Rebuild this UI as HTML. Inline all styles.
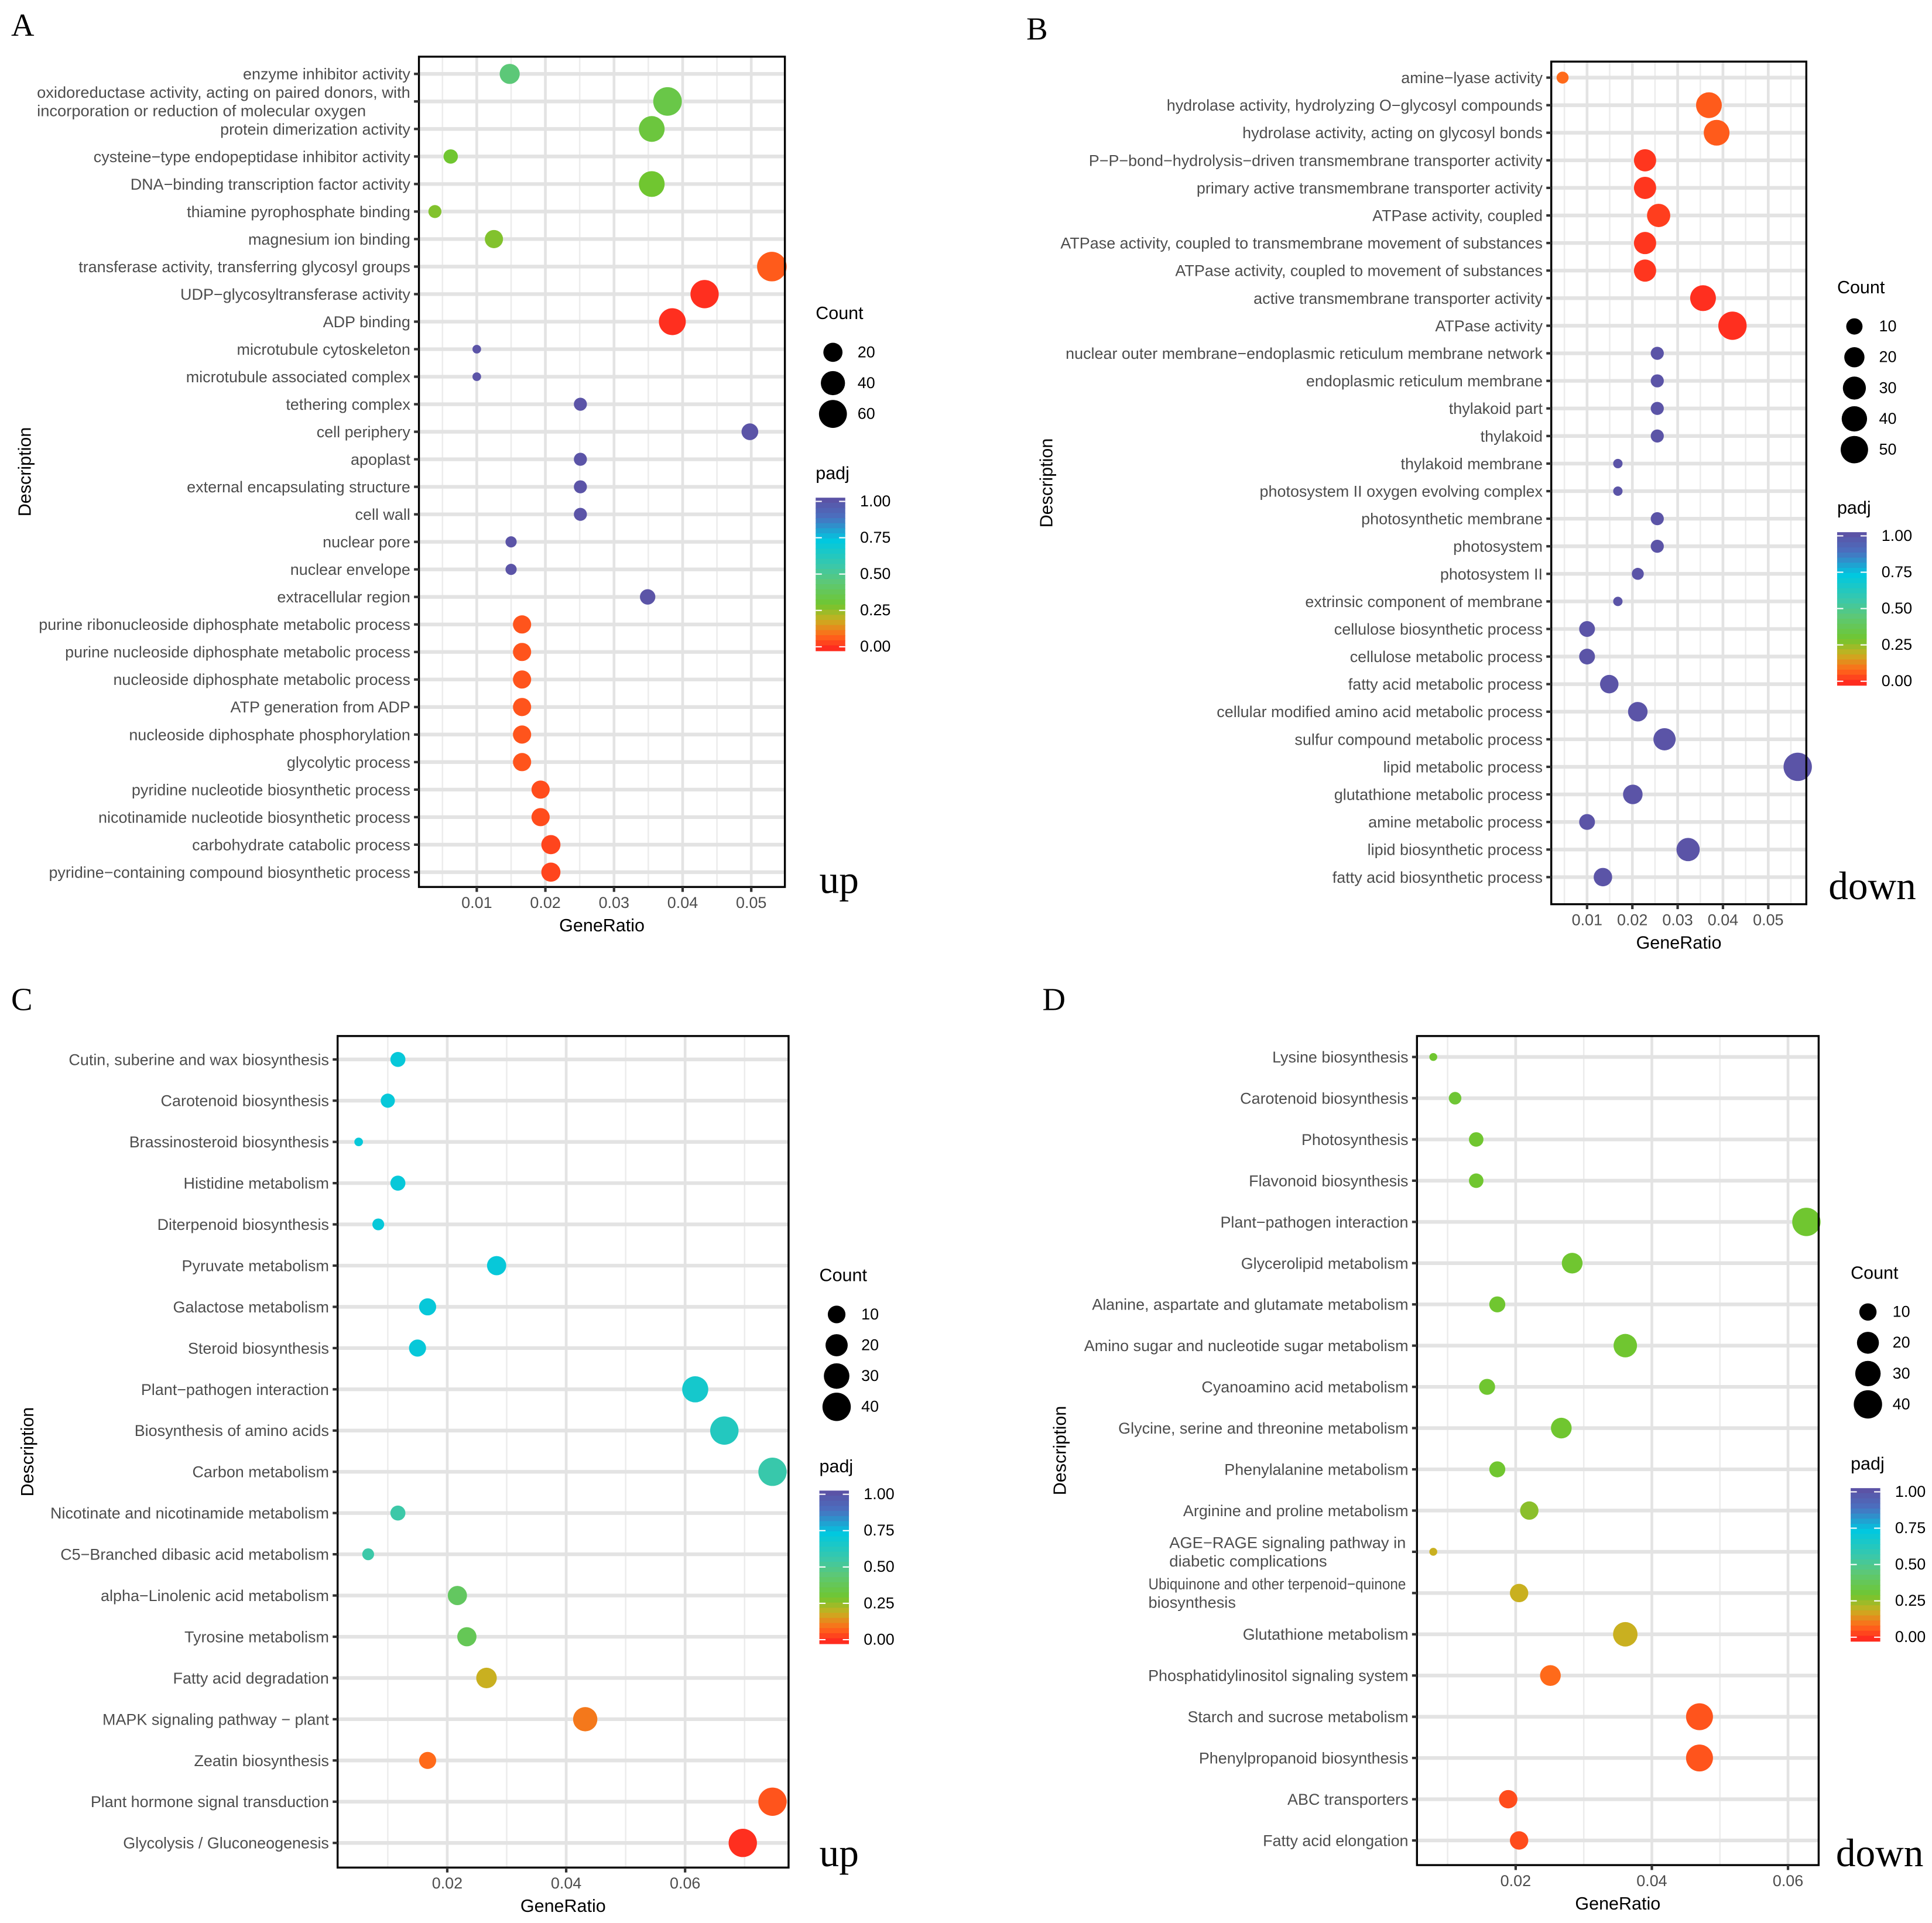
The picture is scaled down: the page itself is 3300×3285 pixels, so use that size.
<!DOCTYPE html>
<html><head><meta charset="utf-8"><style>
html,body{margin:0;padding:0;background:#fff}
svg{display:block}
</style></head><body>
<svg id="fig" xmlns="http://www.w3.org/2000/svg" width="3300" height="3285" viewBox="0 0 1568 1561" preserveAspectRatio="none" font-family="'Liberation Sans', sans-serif"></svg>
<script>
// ---------- Panel A data ----------
const A_terms=["enzyme inhibitor activity","oxidoreductase activity, acting on paired donors, with\nincorporation or reduction of molecular oxygen","protein dimerization activity","cysteine\u2212type endopeptidase inhibitor activity","DNA\u2212binding transcription factor activity","thiamine pyrophosphate binding","magnesium ion binding","transferase activity, transferring glycosyl groups","UDP\u2212glycosyltransferase activity","ADP binding","microtubule cytoskeleton","microtubule associated complex","tethering complex","cell periphery","apoplast","external encapsulating structure","cell wall","nuclear pore","nuclear envelope","extracellular region","purine ribonucleoside diphosphate metabolic process","purine nucleoside diphosphate metabolic process","nucleoside diphosphate metabolic process","ATP generation from ADP","nucleoside diphosphate phosphorylation","glycolytic process","pyridine nucleotide biosynthetic process","nicotinamide nucleotide biosynthetic process","carbohydrate catabolic process","pyridine\u2212containing compound biosynthetic process"];
const A_ratio=[0.0148,0.0378,0.0355,0.0062,0.0355,0.0039,0.0125,0.0530,0.0432,0.0385,0.0100,0.0100,0.0251,0.0498,0.0251,0.0251,0.0251,0.0150,0.0150,0.0349,0.0166,0.0166,0.0166,0.0166,0.0166,0.0166,0.0193,0.0193,0.0208,0.0208];
const A_count=[23,64,48,8,48,6,17,70,62,54,3,3,6,13,6,6,6,4,4,10,17,17,17,17,17,17,17,17,20,20];
const A_padj=[0.45,0.35,0.33,0.30,0.30,0.28,0.28,0.08,0.02,0.02,0.98,0.98,0.98,0.98,0.98,0.98,0.98,0.98,0.98,0.98,0.07,0.07,0.07,0.07,0.07,0.07,0.06,0.06,0.05,0.05];
const A_ticks=["0.01","0.02","0.03","0.04","0.05"];
const A_countBreaks=[20,40,60];
// ---------- Panel B data ----------
const B_terms=["amine\u2212lyase activity","hydrolase activity, hydrolyzing O\u2212glycosyl compounds","hydrolase activity, acting on glycosyl bonds","P\u2212P\u2212bond\u2212hydrolysis\u2212driven transmembrane transporter activity","primary active transmembrane transporter activity","ATPase activity, coupled","ATPase activity, coupled to transmembrane movement of substances","ATPase activity, coupled to movement of substances","active transmembrane transporter activity","ATPase activity","nuclear outer membrane\u2212endoplasmic reticulum membrane network","endoplasmic reticulum membrane","thylakoid part","thylakoid","thylakoid membrane","photosystem II oxygen evolving complex","photosynthetic membrane","photosystem","photosystem II","extrinsic component of membrane","cellulose biosynthetic process","cellulose metabolic process","fatty acid metabolic process","cellular modified amino acid metabolic process","sulfur compound metabolic process","lipid metabolic process","glutathione metabolic process","amine metabolic process","lipid biosynthetic process","fatty acid biosynthetic process"];
const B_ratio=[0.0046,0.0369,0.0386,0.0228,0.0228,0.0258,0.0228,0.0228,0.0356,0.0421,0.0255,0.0255,0.0255,0.0255,0.0168,0.0168,0.0255,0.0255,0.0212,0.0168,0.0100,0.0100,0.0149,0.0212,0.0271,0.0565,0.0201,0.0100,0.0323,0.0135];
const B_count=[4,42,42,27,27,31,27,27,42,55,5,5,5,5,3,3,5,5,4,3,9,9,15,18,27,55,18,9,31,15];
const B_padj=[0.10,0.08,0.08,0.03,0.03,0.04,0.03,0.03,0.02,0.02,0.98,0.98,0.98,0.98,0.98,0.98,0.98,0.98,0.98,0.98,0.98,0.98,0.98,0.98,0.98,0.98,0.98,0.98,0.98,0.98];
const B_ticks=["0.01","0.02","0.03","0.04","0.05"];
const B_countBreaks=[10,20,30,40,50];
// ---------- Panel C data ----------
const C_terms=["Cutin, suberine and wax biosynthesis","Carotenoid biosynthesis","Brassinosteroid biosynthesis","Histidine metabolism","Diterpenoid biosynthesis","Pyruvate metabolism","Galactose metabolism","Steroid biosynthesis","Plant\u2212pathogen interaction","Biosynthesis of amino acids","Carbon metabolism","Nicotinate and nicotinamide metabolism","C5\u2212Branched dibasic acid metabolism","alpha\u2212Linolenic acid metabolism","Tyrosine metabolism","Fatty acid degradation","MAPK signaling pathway \u2212 plant","Zeatin biosynthesis","Plant hormone signal transduction","Glycolysis / Gluconeogenesis"];
const C_ratio=[0.0117,0.0100,0.0051,0.0117,0.0084,0.0283,0.0167,0.0150,0.0617,0.0666,0.0747,0.0117,0.0067,0.0217,0.0233,0.0266,0.0432,0.0167,0.0747,0.0697];
const C_count=[6,5,2,6,3,13,9,9,32,40,40,6,3,13,13,16,26,9,40,40];
const C_padj=[0.70,0.70,0.70,0.70,0.70,0.70,0.70,0.70,0.66,0.62,0.56,0.55,0.55,0.40,0.38,0.20,0.12,0.10,0.07,0.02];
const C_ticks=["0.02","0.04","0.06"];
const C_countBreaks=[10,20,30,40];
// ---------- Panel D data ----------
const D_terms=["Lysine biosynthesis","Carotenoid biosynthesis","Photosynthesis","Flavonoid biosynthesis","Plant\u2212pathogen interaction","Glycerolipid metabolism","Alanine, aspartate and glutamate metabolism","Amino sugar and nucleotide sugar metabolism","Cyanoamino acid metabolism","Glycine, serine and threonine metabolism","Phenylalanine metabolism","Arginine and proline metabolism","AGE\u2212RAGE signaling pathway in\ndiabetic complications","Ubiquinone and other terpenoid\u2212quinone\nbiosynthesis","Glutathione metabolism","Phosphatidylinositol signaling system","Starch and sucrose metabolism","Phenylpropanoid biosynthesis","ABC transporters","Fatty acid elongation"];
const D_ratio=[0.0079,0.0111,0.0142,0.0142,0.0627,0.0283,0.0173,0.0361,0.0158,0.0267,0.0173,0.0220,0.0079,0.0205,0.0361,0.0251,0.0470,0.0470,0.0189,0.0205];
const D_count=[2,4,6,6,40,17,8,24,8,17,8,12,2,12,27,17,35,35,12,12];
const D_padj=[0.30,0.31,0.30,0.30,0.30,0.30,0.30,0.30,0.30,0.30,0.30,0.27,0.20,0.20,0.20,0.10,0.07,0.07,0.06,0.06];
const D_ticks=["0.02","0.04","0.06"];
const D_countBreaks=[10,20,30,40];

const NS="http://www.w3.org/2000/svg";
const svg=document.getElementById('fig');
const FS=12.8;
function mk(tag,attrs,parent){const e=document.createElementNS(NS,tag);for(const k in attrs)e.setAttribute(k,attrs[k]);(parent||svg).appendChild(e);return e;}
const stops=[[0,[255,32,32]],[0.1,[255,106,26]],[0.2,[201,176,32]],[0.3,[112,198,48]],[0.45,[92,200,120]],[0.55,[60,200,168]],[0.72,[0,200,224]],[0.87,[74,112,192]],[1,[94,79,162]]];
function col(p){for(let i=1;i<stops.length;i++){if(p<=stops[i][0]){const a=stops[i-1],b=stops[i];const t=(p-a[0])/(b[0]-a[0]);const c=a[1].map((v,j)=>Math.round(v+(b[1][j]-v)*t));return `rgb(${c[0]},${c[1]},${c[2]})`;}}return 'rgb(94,79,162)';}

function panel(cfg){
  const g=mk('g',{});
  
  
  const [x0,y0,x1,y1]=cfg.box;
  const xs=v=>x0+(v-cfg.dom[0])/(cfg.dom[1]-cfg.dom[0])*(x1-x0);
  const n=cfg.terms.length;
  const ys=i=>cfg.rowTop+(cfg.rowBot-cfg.rowTop)*i/(n-1);
  const rs=c=>cfg.rmin+(cfg.rmax-cfg.rmin)*Math.sqrt(Math.max(0,(c-cfg.cmin))/(cfg.cmax-cfg.cmin));
  cfg.minors.forEach(v=>{const l=mk('line',{x1:xs(v),x2:xs(v),y1:y0,y2:y1,stroke:'#ececec','stroke-width':1.2},g);});
  cfg.majors.forEach(v=>{const l=mk('line',{x1:xs(v),x2:xs(v),y1:y0,y2:y1,stroke:'#e3e3e3','stroke-width':2.2},g);});
  cfg.terms.forEach((t,i)=>{const l=mk('line',{x1:x0,x2:x1,y1:ys(i),y2:ys(i),stroke:'#e3e3e3','stroke-width':3},g);});
  cfg.terms.forEach((t,i)=>{
    const c=mk('circle',{cx:xs(cfg.ratio[i]),cy:ys(i),r:rs(cfg.count[i]),fill:col(cfg.padj[i])},g);
    
    
  });
  const b=mk('rect',{x:x0,y:y0,width:x1-x0,height:y1-y0,fill:'none',stroke:'#000','stroke-width':1.6},g);
  
  cfg.terms.forEach((t,i)=>{
    const y=ys(i);
    mk('line',{x1:x0-4,x2:x0,y1:y,y2:y,stroke:'#333','stroke-width':2},g);
    const lines=t.split('\n');
    if(lines.length===1){
      const tx=mk('text',{x:x0-7,y:y+4.5,'text-anchor':'end','font-size':FS,fill:'#4d4d4d'},g);
      tx.textContent=t;
      
    }else{
      const w=cfg.wrap[i];
      const tx=mk('text',{x:w.x,y:y,'font-size':FS,fill:'#4d4d4d'},g);
      
      lines.forEach((ln,k)=>{const s=mk('tspan',{x:w.x,y:y-3+k*15,textLength:w.len[k],lengthAdjust:'spacingAndGlyphs'},tx);s.textContent=ln;});
    }
  });
  cfg.majors.forEach((v,i)=>{
    mk('line',{x1:xs(v),x2:xs(v),y1:y1,y2:y1+4,stroke:'#333','stroke-width':2},g);
    const tx=mk('text',{x:xs(v),y:y1+17,'text-anchor':'middle','font-size':FS,fill:'#4d4d4d'},g);
    tx.textContent=cfg.ticks[i];
    
  });
  const xt=mk('text',{x:(x0+x1)/2,y:y1+36,'text-anchor':'middle','font-size':14.5,fill:'#000'},g);
  xt.textContent='GeneRatio';
  const yt=mk('text',{x:cfg.descX,y:(y0+y1)/2,'text-anchor':'middle','font-size':14.5,fill:'#000',transform:`rotate(-90 ${cfg.descX} ${(y0+y1)/2})`},g);
  yt.textContent='Description';
  const lt=mk('text',{x:cfg.letter[0],y:cfg.letter[1],'font-size':26,'font-family':"'Liberation Serif', serif",fill:'#000'},g);
  lt.textContent=cfg.id;
  const tg=mk('text',{x:cfg.tag[0],y:cfg.tag[1],'font-size':32,'font-family':"'Liberation Serif', serif",fill:'#000'},g);
  tg.textContent=cfg.tagText;
  const L=cfg.leg;
  const ct=mk('text',{x:L.x,y:L.cy,'font-size':14.5,fill:'#000'},g);
  ct.textContent='Count';
  cfg.breaks.forEach((c,k)=>{
    const yy=L.cy+27+k*25;
    const cc=mk('circle',{cx:L.x+14,cy:yy,r:rs(c),fill:'#000'},g);
    
    const tx=mk('text',{x:L.x+34,y:yy+4,'font-size':FS,fill:'#000'},g);
    tx.textContent=String(c);
  });
  const pt=mk('text',{x:L.x,y:L.py,'font-size':14.5,fill:'#000'},g);
  pt.textContent='padj';
  const bx=L.x, by=L.py+15, bw=24, bh=124;
  const nb=30;
  for(let k=0;k<nb;k++){
    const p=1-(k+0.5)/nb;
    mk('rect',{x:bx,y:by+k*bh/nb,width:bw,height:bh/nb+0.6,fill:col(p)},g);
  }
  ['1.00','0.75','0.50','0.25','0.00'].forEach((s,k)=>{
    const yy=by+3+k*(bh-6)/4;
    mk('line',{x1:bx,x2:bx+5,y1:yy,y2:yy,stroke:'#fff','stroke-width':1},g);
    mk('line',{x1:bx+bw-5,x2:bx+bw,y1:yy,y2:yy,stroke:'#fff','stroke-width':1},g);
    const tx=mk('text',{x:bx+bw+12,y:yy+4,'font-size':FS,fill:'#000'},g);
    tx.textContent=s;
  });
}

panel({id:'A',terms:A_terms,ratio:A_ratio,count:A_count,padj:A_padj,ticks:A_ticks,breaks:A_countBreaks,
  box:[340,46,637,720],dom:[0.00157,0.0549],rowTop:60,rowBot:708,
  majors:[0.01,0.02,0.03,0.04,0.05],minors:[0.005,0.015,0.025,0.035,0.045],
  rmin:3.5,rmax:12,cmin:3,cmax:70,wrap:{1:{x:30,len:[303,267]}},descX:25,letter:[9,29],tag:[665,725],tagText:'up',
  leg:{x:662,cy:259,py:389}});
panel({id:'B',terms:B_terms,ratio:B_ratio,count:B_count,padj:B_padj,ticks:B_ticks,breaks:B_countBreaks,
  box:[1259,50,1466,734],dom:[0.0021,0.0584],rowTop:63,rowBot:712,
  majors:[0.01,0.02,0.03,0.04,0.05],minors:[0.005,0.015,0.025,0.035,0.045,0.055],
  rmin:3.8,rmax:11.5,cmin:3,cmax:55,wrap:{},descX:854,letter:[833,32],tag:[1484,730],tagText:'down',
  leg:{x:1491,cy:238,py:417}});
panel({id:'C',terms:C_terms,ratio:C_ratio,count:C_count,padj:C_padj,ticks:C_ticks,breaks:C_countBreaks,
  box:[274,841,640,1516],dom:[0.00156,0.0774],rowTop:860,rowBot:1496,
  majors:[0.02,0.04,0.06],minors:[0.01,0.03,0.05,0.07],
  rmin:3.5,rmax:11.5,cmin:2,cmax:40,wrap:{},descX:27,letter:[9,820],tag:[665,1515],tagText:'up',
  leg:{x:665,cy:1040,py:1195}});
panel({id:'D',terms:D_terms,ratio:D_ratio,count:D_count,padj:D_padj,ticks:D_ticks,breaks:D_countBreaks,
  box:[1150,841,1476,1514],dom:[0.0055,0.0645],rowTop:858,rowBot:1494,
  majors:[0.02,0.04,0.06],minors:[0.01,0.03,0.05],
  rmin:3.2,rmax:11.5,cmin:2,cmax:40,wrap:{12:{x:949,len:[192,128]},13:{x:932,len:[209,71]}},descX:865,letter:[846,820],tag:[1490,1515],tagText:'down',
  leg:{x:1502,cy:1038,py:1193}});
</script>
</body></html>
